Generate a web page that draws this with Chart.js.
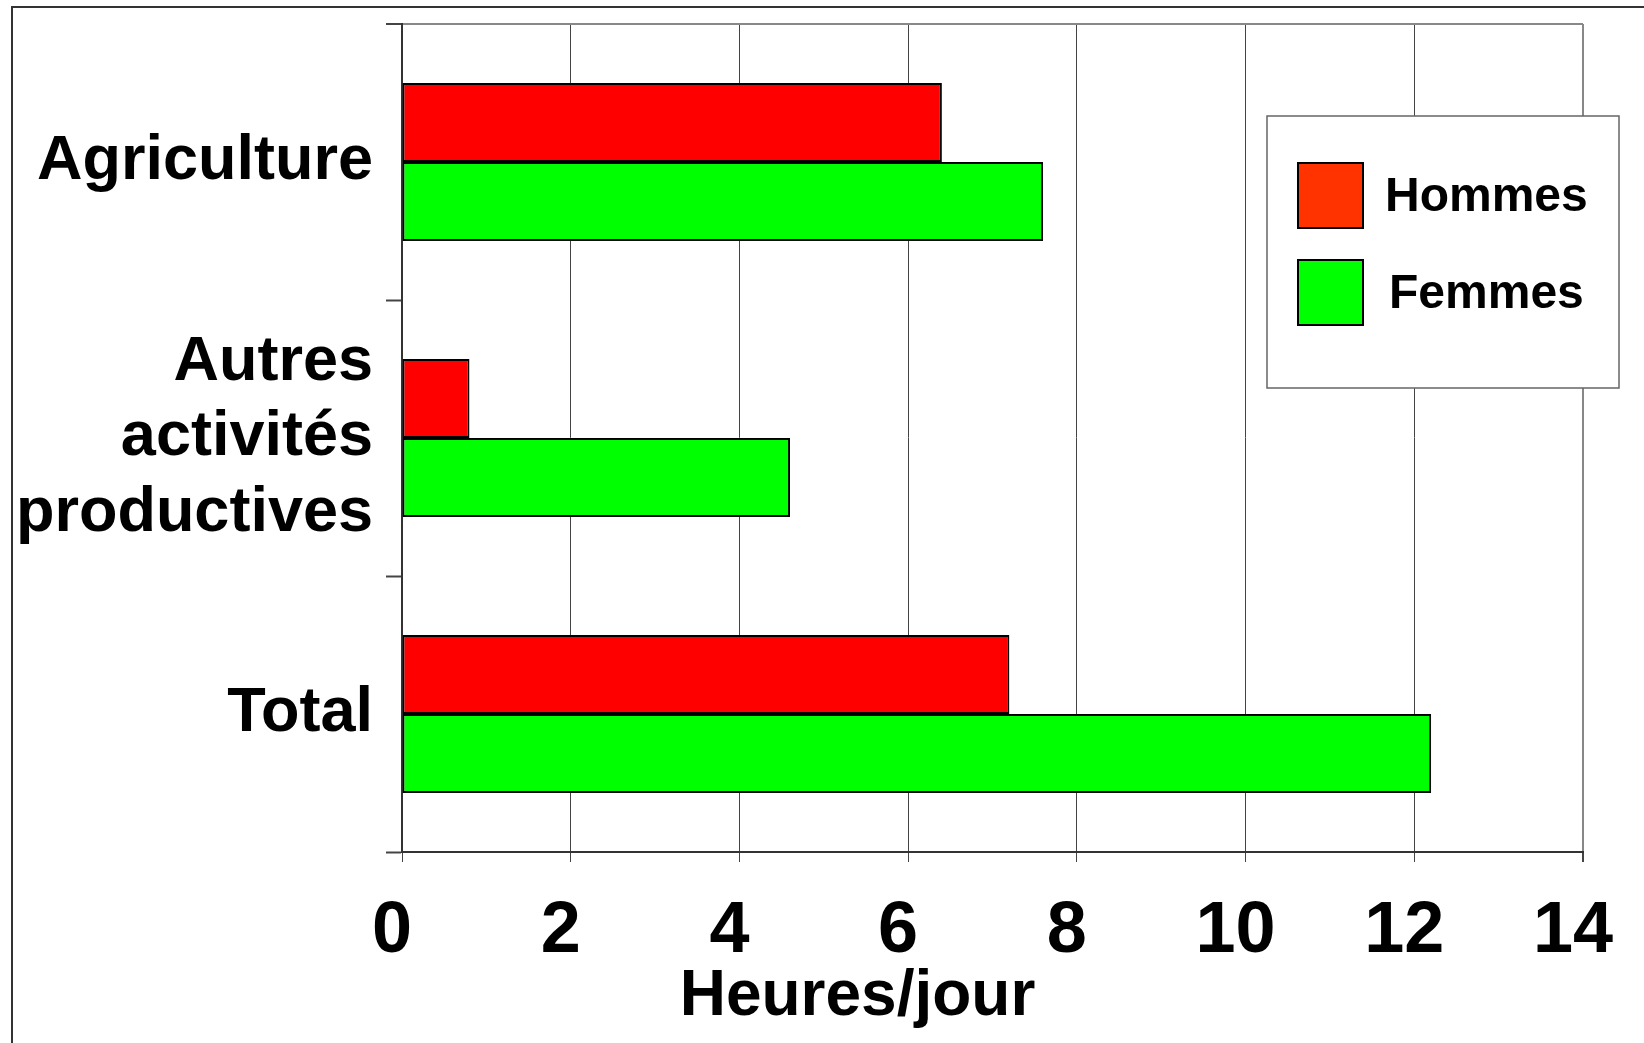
<!DOCTYPE html>
<html>
<head>
<meta charset="utf-8">
<script src="https://cdn.jsdelivr.net/npm/chart.js@4.4.1/dist/chart.umd.min.js"></script>
<style>
  html, body { margin: 0; padding: 0; background: #ffffff; }
  #wrap { width: 1644px; height: 1043px; }
</style>
</head>
<body>
<div id="wrap"><canvas id="c" width="1644" height="1043"></canvas></div>
<script>
// ---- data ----
const categories = ['Agriculture', ['Autres', 'activités', 'productives'], 'Total'];
const seriesNames = ['Hommes', 'Femmes'];
const hommes = [6.4, 0.8, 7.2];
const femmes = [7.6, 4.6, 12.2];
const xTicks = [0, 2, 4, 6, 8, 10, 12, 14];
const xTitle = 'Heures/jour';

// ---- styles ----
const barColors = ['#ff0000', '#00ff00'];
const legendColors = ['#ff3300', '#00ff00'];
const FONT = "'Liberation Sans', Arial, sans-serif";
Chart.defaults.font.family = FONT;

const decor = {
  id: 'decor',
  beforeDraw(chart) {
    const ctx = chart.ctx;
    ctx.save();
    ctx.fillStyle = '#ffffff';
    ctx.fillRect(0, 0, chart.width, chart.height);
    // outer frame (top + left)
    ctx.strokeStyle = '#333333';
    ctx.lineWidth = 2;
    ctx.beginPath();
    ctx.moveTo(chart.width, 7);
    ctx.lineTo(12, 7);
    ctx.lineTo(12, chart.height);
    ctx.stroke();
    ctx.restore();
  },
  afterDraw(chart) {
    const ctx = chart.ctx;
    const xs = chart.scales.x;
    ctx.save();
    // axis title
    ctx.fillStyle = '#000';
    ctx.font = 'bold 64px ' + FONT;
    ctx.textAlign = 'center';
    ctx.textBaseline = 'alphabetic';
    ctx.fillText(xTitle, xs.getPixelForValue(5.4), 1015);

    // legend box
    const bx = 1267, by = 116, bw = 352, bh = 272;
    ctx.fillStyle = '#ffffff';
    ctx.fillRect(bx, by, bw, bh);
    ctx.strokeStyle = '#666666';
    ctx.lineWidth = 1.5;
    ctx.strokeRect(bx, by, bw, bh);
    const rows = [163, 260];
    ctx.font = 'bold 48px ' + FONT;
    ctx.textAlign = 'left';
    ctx.textBaseline = 'middle';
    chart.data.datasets.forEach((ds, i) => {
      const y = rows[i];
      ctx.fillStyle = legendColors[i];
      ctx.fillRect(1298, y, 65, 65);
      ctx.strokeStyle = '#000';
      ctx.lineWidth = 2;
      ctx.strokeRect(1298, y, 65, 65);
      ctx.fillStyle = '#000';
      ctx.fillText(ds.label, 1385 + (i === 1 ? 4 : 0), y + 35);
    });
    ctx.restore();
  }
};

new Chart(document.getElementById('c'), {
  type: 'bar',
  data: {
    labels: categories,
    datasets: [
      { label: seriesNames[0], data: hommes, backgroundColor: barColors[0] },
      { label: seriesNames[1], data: femmes, backgroundColor: barColors[1] }
    ]
  },
  options: {
    indexAxis: 'y',
    responsive: false,
    animation: false,
    devicePixelRatio: 1,
    layout: { padding: { top: 24, right: 61, left: 0, bottom: 0 } },
    datasets: {
      bar: {
        barPercentage: 1,
        categoryPercentage: 0.5725,
        borderColor: '#000',
        borderWidth: 2,
        borderSkipped: false
      }
    },
    plugins: {
      legend: { display: false },
      tooltip: { enabled: false }
    },
    scales: {
      x: {
        type: 'linear',
        position: 'bottom',
        min: xTicks[0],
        max: xTicks[xTicks.length - 1],
        afterBuildTicks(s) { s.ticks = xTicks.map(v => ({ value: v })); },
        afterFit(s) { s.height = 1043 - 852; s.paddingLeft = 0; s.paddingRight = 0; },
        grid: {
          color: c => (c.tick && c.tick.value === 14) ? '#888888' : '#444444',
          lineWidth: c => (c.tick && c.tick.value === 14) ? 2 : 1,
          tickColor: '#444444',
          tickLength: 10,
          drawTicks: true
        },
        border: { color: '#333333', width: 2 },
        ticks: {
          color: '#000',
          font: { size: 72, weight: 'bold' },
          padding: 27,
          labelOffset: -10,
          maxRotation: 0,
          autoSkip: false
        }
      },
      y: {
        type: 'category',
        position: 'left',
        afterFit(s) { s.width = 402; s.paddingTop = 0; s.paddingBottom = 0; },
        grid: {
          offset: true,
          drawOnChartArea: true,
          color: c => c.index === 0 ? '#888888' : 'rgba(0,0,0,0)',
          lineWidth: c => c.index === 0 ? 2 : 1,
          tickColor: '#444444',
          tickWidth: 2,
          tickLength: 16
        },
        border: { color: '#333333', width: 2 },
        ticks: {
          color: '#000',
          font: { size: 63, weight: 'bold', lineHeight: 1.2 },
          padding: 13,
          autoSkip: false
        }
      }
    }
  },
  plugins: [decor]
});
</script>
</body>
</html>
